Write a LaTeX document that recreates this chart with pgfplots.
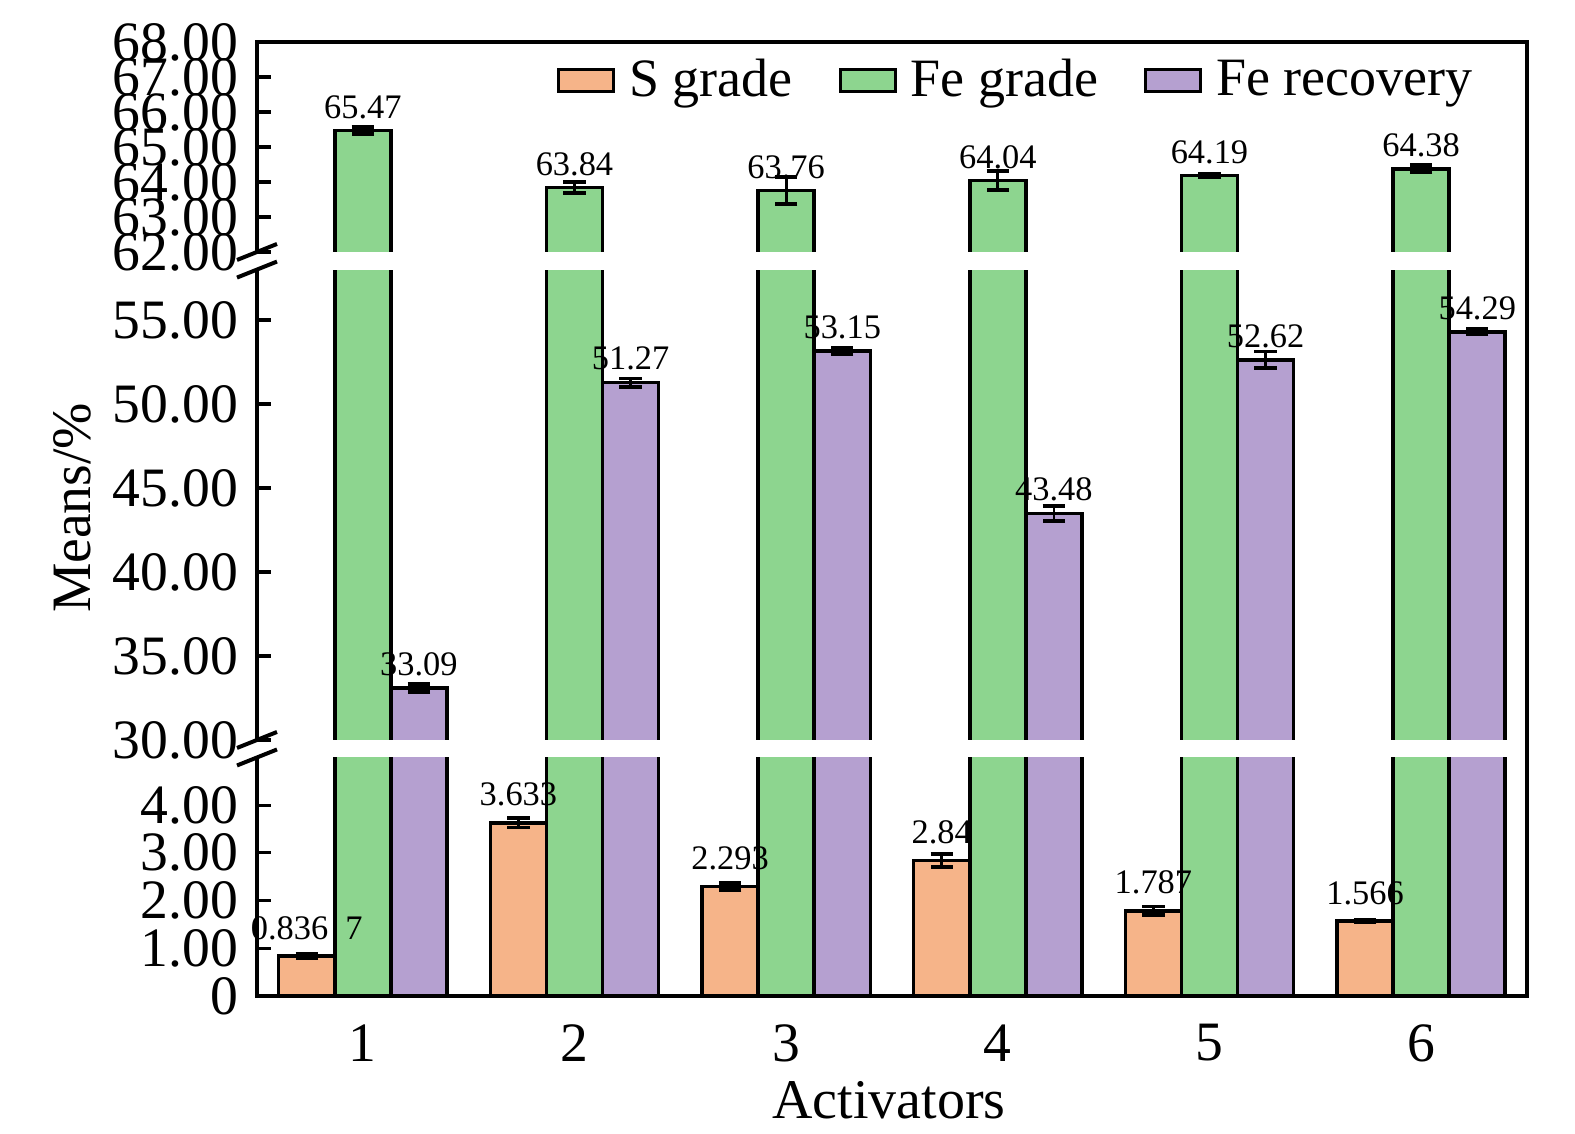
\documentclass[border=0pt]{standalone}
\usepackage{pgfplots}
\usepackage{pgfplotstable}
\pgfplotsset{compat=1.18}
\usepackage{fontspec}
\setmainfont{Liberation Serif}
\definecolor{sg}{RGB}{246,180,137}
\definecolor{fg}{RGB}{141,213,143}
\definecolor{fr}{RGB}{181,160,208}

\pgfplotstableread{
x y e lab
1 0.8367 0.05 0.836\enspace7
2 3.633 0.10 3.633
3 2.293 0.07 2.293
4 2.84 0.13 2.84
5 1.787 0.09 1.787
6 1.566 0.02 1.566
}\sgtab
\pgfplotstableread{
x y e lab
1 65.47 0.11 65.47
2 63.84 0.15 63.84
3 63.76 0.39 63.76
4 64.04 0.27 64.04
5 64.19 0.05 64.19
6 64.38 0.10 64.38
}\fgtab
\pgfplotstableread{
x y e lab
1 33.09 0.25 33.09
2 51.27 0.25 51.27
3 53.15 0.20 53.15
4 43.48 0.45 43.48
5 52.62 0.50 52.62
6 54.29 0.15 54.29
}\frtab

\pgfplotsset{
  panel/.style={
    scale only axis, width=317.5pt, anchor=south west,
    xmin=0.5, xmax=6.5,
    axis line style={draw=none},
    ytick pos=left, xtick pos=bottom,
    tick align=inside, major tick length=3.5pt,
    tick style={black, line width=0.8pt},
    tick label style={font=\fontsize{13.9}{14}\selectfont},
    yticklabel style={xshift=-1.2pt},
    /pgf/number format/assume math mode=true,
    xtick=\empty,
  },
  bars/.style={ybar, bar width=0.265, bar shift=0, draw=black, line width=0.9pt,
    error bars/y dir=both, error bars/y explicit,
    error bars/error bar style={black, line width=0.7pt},
    error bars/error mark options={rotate=90, mark size=2.8pt, line width=0.95pt, black}},
  lbl/.style={nodes near coords, point meta=explicit symbolic,
    every node near coord/.append style={font=\fontsize{8.6}{9}\selectfont, black, yshift=#1}},
  legbox/.style={legend image code/.code={\draw[##1, draw=black, line width=0.75pt] (0pt,-2.75pt) rectangle (13.75pt,2.75pt);}},
}

\begin{document}
\begin{tikzpicture}
\useasboundingbox (0,0) rectangle (393.75pt,283.5pt);

% bottom panel: 0 .. 5
\begin{axis}[panel, at={(64.25pt,34.5pt)}, height=59.625pt,
  ymin=0, ymax=5, ytick={0,1,2,3,4}, yticklabels={0,1.00,2.00,3.00,4.00},
  xtick={1,2,3,4,5,6}, xtick style={draw=none},
  xticklabel style={yshift=-3.6pt}]
\addplot[bars, fill=sg, lbl=0.3pt] table[x expr=\thisrow{x}-0.265,y=y,y error=e,meta=lab]{\sgtab};
\addplot[bars, fill=fg] table[x=x,y=y,y error=e]{\fgtab};
\addplot[bars, fill=fr] table[x expr=\thisrow{x}+0.265,y=y,y error=e]{\frtab};
\end{axis}

% middle panel: 30 .. 58 (axis extends into the gap)
\begin{axis}[panel, at={(64.25pt,96.3pt)}, height=119.8pt,
  ymin=29.476, ymax=58, ytick={30,35,40,45,50,55},
  yticklabels={30.00,35.00,40.00,45.00,50.00,55.00}]
\addplot[bars, fill=fg] table[x=x,y=y,y error=e]{\fgtab};
\addplot[bars, fill=fr, lbl=-0.7pt] table[x expr=\thisrow{x}+0.265,y=y,y error=e,meta=lab]{\frtab};
\end{axis}

% top panel: 62 .. 68 (axis extends into the gap)
\begin{axis}[panel, at={(64.25pt,218.3pt)}, height=54.7pt,
  ymin=61.75, ymax=68, ytick={62,63,64,65,66,67,68},
  yticklabels={62.00,63.00,64.00,65.00,66.00,67.00,68.00},
  legend columns=3,
  legend style={draw=none, fill=none, at={(0.6,0.822)}, anchor=center,
    font=\fontsize{13.5}{14}\selectfont,
    /tikz/every odd column/.append style={column sep=1.5pt},
    /tikz/every even column/.append style={column sep=9.5pt}}]
\addplot[bars, fill=fg, lbl=-0.9pt, forget plot] table[x=x,y=y,y error=e,meta=lab]{\fgtab};
\addlegendimage{legbox, fill=sg}
\addlegendentry{S grade}
\addlegendimage{legbox, fill=fg}
\addlegendentry{Fe grade}
\addlegendimage{legbox, fill=fr}
\addlegendentry{Fe recovery}
\end{axis}

% white gaps of the broken axis
\fill[white] (68pt,94.125pt) rectangle (381pt,98.5pt);
\fill[white] (68pt,216.1pt) rectangle (381pt,220.5pt);

% frame
\draw[line width=1pt] (64.25pt,220.5pt) -- (64.25pt,273pt) -- (381.75pt,273pt) -- (381.75pt,34.5pt) -- (64.25pt,34.5pt) -- (64.25pt,94.125pt);
\draw[line width=1pt] (64.25pt,98.5pt) -- (64.25pt,216.1pt);
% break marks
\foreach \yy in {220.5,216.1,98.5,94.125}{
  \draw[line width=1pt] (59.25pt,\yy pt-2pt) -- (69.25pt,\yy pt+2pt);
}
% axis titles
\node[rotate=90, font=\fontsize{13.9}{14}\selectfont] at (18pt,156.5pt) {Means/\%};
\node[font=\fontsize{14}{14}\selectfont] at (222.2pt,8.5pt) {Activators};
\end{tikzpicture}
\end{document}
